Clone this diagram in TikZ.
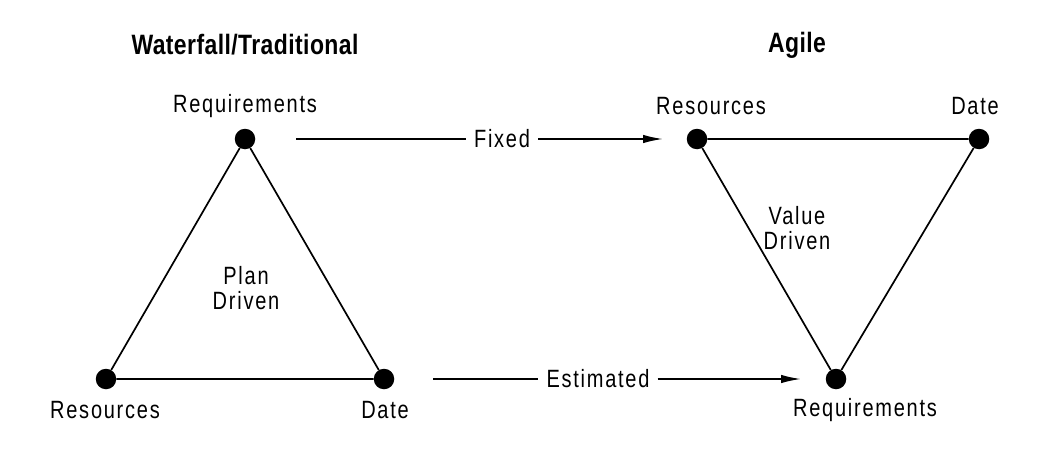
\documentclass[tikz,border=0pt]{standalone}
\usepackage{fontspec}
\setmainfont{Liberation Sans}[FakeStretch=0.8,LetterSpace=7]
\newfontfamily\titlefont{Liberation Sans Bold}[FakeStretch=0.82,LetterSpace=1.5]
\usetikzlibrary{arrows.meta}
\begin{document}
\begin{tikzpicture}[x=1pt,y=-1pt,
  dot/.style={circle,fill=black,draw=none,minimum size=20.5pt,inner sep=0pt},
  lbl/.style={font=\fontsize{25}{25}\selectfont,inner sep=0pt},
  ttl/.style={font=\titlefont\fontsize{28}{28}\selectfont,inner sep=0pt},
  mid/.style={font=\fontsize{25}{25}\selectfont,align=center,inner sep=0pt},
  edge/.style={line width=1.7pt},
  arr/.style={line width=1.7pt,-{Latex[length=20pt,width=8.5pt]}},
  arrlbl/.style={font=\fontsize{25}{25}\selectfont,inner xsep=8pt,inner ysep=0pt}]
\useasboundingbox (0,0) rectangle (1041,452);
\fill[white] (0,0) rectangle (1041,452);
% titles
\node[ttl] (t1) at (245,45) {Waterfall/Traditional};
\node[ttl] (t2) at (797,45) {Agile};
% left triangle
\node[dot] (lt) at (245,139) {};
\node[dot] (lbl1) at (106,379) {};
\node[dot] (lbr) at (384,379) {};
\draw[edge] (lt) -- (lbl1) -- (lbr) -- (lt);
\node[lbl] (lreq) at (245,106) {Requirements};
\node[lbl] (lres) at (105,410) {Resources};
\node[lbl] (ldate) at (385,410) {Date};
\node[mid] (plan) at (246,288) {Plan\\Driven};
% right triangle
\node[dot] (rtl) at (697,139) {};
\node[dot] (rtr) at (979,139) {};
\node[dot] (rb) at (836,379) {};
\draw[edge] (rtl) -- (rtr) -- (rb) -- (rtl);
\node[lbl] (rres) at (711,106) {Resources};
\node[lbl] (rdate) at (975,106) {Date};
\node[lbl] (rreq) at (865,410) {Requirements};
\node[mid] (value) at (797,228) {Value\\Driven};
% arrows
\coordinate (f1) at (296,139);
\coordinate (f2) at (663,139);
\node[arrlbl] (fixed) at (502,139) {Fixed};
\draw[edge] (f1) -- (fixed);
\draw[arr] (fixed) -- (f2);
\coordinate (e1) at (433,379);
\coordinate (e2) at (801,379);
\node[arrlbl] (est) at (598,379) {Estimated};
\draw[edge] (e1) -- (est);
\draw[arr] (est) -- (e2);
\end{tikzpicture}
\end{document}
